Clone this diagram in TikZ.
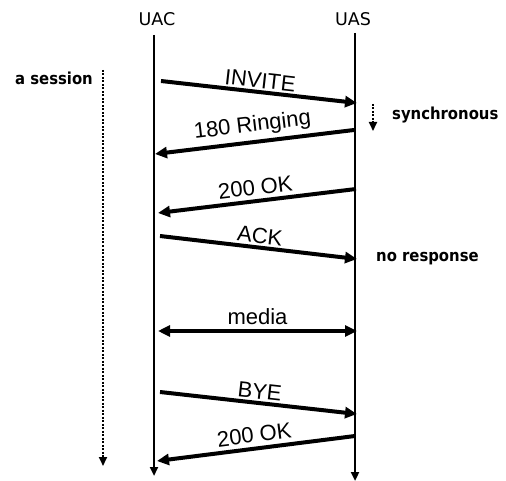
\documentclass[tikz,border=0pt]{standalone}
\usepackage{fontspec}
\setmainfont{Liberation Sans}
\newfontfamily\notefont{DejaVu Sans Condensed}
\newfontfamily\headfont{DejaVu Sans}
\usetikzlibrary{arrows.meta}
\begin{document}
\begin{tikzpicture}[x=1pt,y=-1pt,
  lifeline/.style={line width=2.6pt,-{Triangle[length=9pt,width=8pt]}},
  msg/.style={line width=4pt,-{Triangle[length=12pt,width=11pt]}},
  bimsg/.style={line width=4pt,{Triangle[length=12pt,width=11pt]}-{Triangle[length=12pt,width=11pt]}},
  lbl/.style={font=\fontsize{22}{22}\selectfont,sloped,above,inner sep=2pt},
  note/.style={font=\notefont\bfseries\fontsize{16.5}{16.5}\selectfont,inner sep=0pt},
  head/.style={font=\headfont\fontsize{17.5}{17.5}\selectfont,inner sep=0pt},
  dotline/.style={line width=2.2pt,dash pattern=on 2pt off 1.5pt,-{Triangle[length=9pt,width=8pt]}}]
\useasboundingbox (0,0) rectangle (506,481);
% headers
\node[head] (uac) at (157,19) {UAC};
\node[head] (uas) at (353,19) {UAS};
% lifelines
\coordinate (uactop) at (154,35);
\coordinate (uacbot) at (154,476);
\coordinate (uastop) at (355,33);
\coordinate (uasbot) at (355,481);
\draw[lifeline] (uactop) -- (uacbot);
\draw[lifeline] (uastop) -- (uasbot);
% endpoints
\coordinate (a1) at (161,81);  \coordinate (b1) at (357,103);
\coordinate (a2) at (354,130); \coordinate (b2) at (155,154);
\coordinate (a3) at (356,189); \coordinate (b3) at (158,213);
\coordinate (a4) at (160,236); \coordinate (b4) at (357,259);
\coordinate (a5) at (158,331); \coordinate (b5) at (357,331);
\coordinate (a6) at (160,392); \coordinate (b6) at (357,414);
\coordinate (a7) at (355,436); \coordinate (b7) at (157,461);
\draw[msg] (a1) -- node[lbl] (l1) {INVITE} (b1);
\draw[msg] (a2) -- node[lbl,inner sep=4pt] (l2) {180 Ringing} (b2);
\draw[msg] (a3) -- node[lbl,inner sep=4pt] (l3) {200 OK} (b3);
\draw[msg] (a4) -- node[lbl] (l4) {ACK} (b4);
\draw[bimsg] (a5) -- node[lbl,inner sep=4pt] (l5) {media} (b5);
\draw[msg] (a6) -- node[lbl] (l6) {BYE} (b6);
\draw[msg] (a7) -- node[lbl,inner sep=4pt] (l7) {200 OK} (b7);
% session
\node[note,anchor=east] (sess) at (93,78) {a session};
\coordinate (stop) at (103,70);
\coordinate (sbot) at (103,466);
\draw[dotline] (stop) -- (sbot);
% synchronous
\coordinate (ytop) at (373,104);
\coordinate (ybot) at (373,131);
\draw[dotline,line width=1.8pt] (ytop) -- (ybot);
\node[note,anchor=west] (sync) at (392,115) {synchronous};
\node[note,anchor=west] (nores) at (376,259) {no response};
\end{tikzpicture}
\end{document}
